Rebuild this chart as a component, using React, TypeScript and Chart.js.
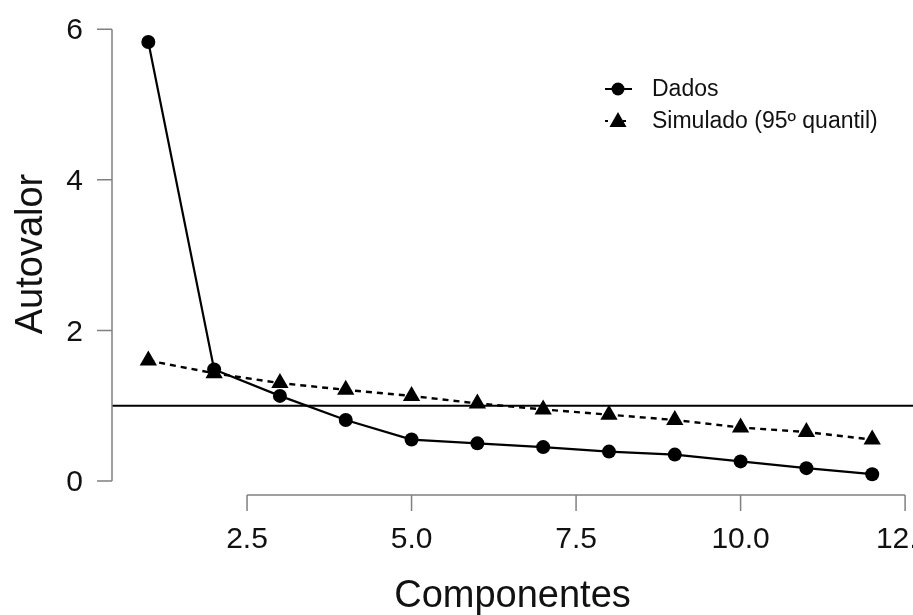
import React, { useEffect, useRef } from "react";
import { Chart, registerables } from "chart.js";

Chart.register(...registerables);

const components = [1, 2, 3, 4, 5, 6, 7, 8, 9, 10, 11, 12];
const dados = [5.83, 1.48, 1.13, 0.81, 0.55, 0.5, 0.45, 0.39, 0.35, 0.26, 0.17, 0.09];
const simulado = [1.6, 1.43, 1.3, 1.21, 1.13, 1.03, 0.95, 0.88, 0.81, 0.71, 0.65, 0.55];
const xTicks = [2.5, 5.0, 7.5, 10.0, 12.5];
const xTickLabels = ["2.5", "5.0", "7.5", "10.0", "12.5"];
const yTicks = [0, 2, 4, 6];
const yTickLabels = ["0", "2", "4", "6"];
const refLine = 1;
const legendLabels = ["Dados", "Simulado (95º quantil)"];
const xTitle = "Componentes";
const yTitle = "Autovalor";

const FONT = '"Liberation Sans", Arial, sans-serif';

export default function App() {
  const ref = useRef<HTMLCanvasElement | null>(null);

  useEffect(() => {
    const canvas = ref.current;
    if (!canvas) return;

    const axesPlugin = {
      id: "rAxes",
      beforeDatasetsDraw(chart: any) {
        const { ctx, chartArea, scales } = chart;
        const y = scales.y.getPixelForValue(refLine);
        ctx.save();
        ctx.strokeStyle = "#000";
        ctx.lineWidth = 2;
        ctx.beginPath();
        ctx.moveTo(chartArea.left, y);
        ctx.lineTo(chartArea.right, y);
        ctx.stroke();
        ctx.restore();
      },
      afterDraw(chart: any) {
        const { ctx, chartArea, scales } = chart;
        const xs = scales.x;
        const ys = scales.y;
        ctx.save();
        ctx.strokeStyle = "#808080";
        ctx.lineWidth = 1.5;
        ctx.fillStyle = "#111";
        // Y axis
        const ax = chartArea.left;
        ctx.beginPath();
        ctx.moveTo(ax, ys.getPixelForValue(yTicks[0]));
        ctx.lineTo(ax, ys.getPixelForValue(yTicks[yTicks.length - 1]));
        yTicks.forEach((t) => {
          const py = ys.getPixelForValue(t);
          ctx.moveTo(ax - 15, py);
          ctx.lineTo(ax, py);
        });
        ctx.stroke();
        ctx.font = `30px ${FONT}`;
        ctx.textAlign = "right";
        ctx.textBaseline = "middle";
        yTicks.forEach((t, i) => {
          ctx.fillText(yTickLabels[i], ax - 29, ys.getPixelForValue(t) + 2);
        });
        // X axis
        const ay = chartArea.bottom + 1;
        ctx.beginPath();
        ctx.moveTo(xs.getPixelForValue(xTicks[0]), ay);
        ctx.lineTo(xs.getPixelForValue(xTicks[xTicks.length - 1]), ay);
        xTicks.forEach((t) => {
          const px = xs.getPixelForValue(t);
          ctx.moveTo(px, ay);
          ctx.lineTo(px, ay + 16);
        });
        ctx.stroke();
        ctx.textAlign = "center";
        ctx.textBaseline = "alphabetic";
        xTicks.forEach((t, i) => {
          ctx.fillText(xTickLabels[i], xs.getPixelForValue(t), ay + 53);
        });
        // Titles
        ctx.font = `38px ${FONT}`;
        ctx.fillText(xTitle, (chartArea.left + chartArea.right) / 2, 607);
        ctx.save();
        ctx.translate(42, 254);
        ctx.rotate(-Math.PI / 2);
        ctx.fillText(yTitle, 0, 0);
        ctx.restore();
        // Legend
        const lx = 618;
        const ly = [89, 121];
        ctx.strokeStyle = "#000";
        ctx.fillStyle = "#000";
        ctx.lineWidth = 2;
        ctx.beginPath();
        ctx.moveTo(lx - 13, ly[0]);
        ctx.lineTo(lx + 14, ly[0]);
        ctx.stroke();
        ctx.beginPath();
        ctx.arc(lx, ly[0], 6.5, 0, Math.PI * 2);
        ctx.fill();
        ctx.setLineDash([3, 6]);
        ctx.beginPath();
        ctx.moveTo(lx - 13, ly[1]);
        ctx.lineTo(lx + 14, ly[1]);
        ctx.stroke();
        ctx.setLineDash([]);
        ctx.beginPath();
        ctx.moveTo(lx, ly[1] - 9);
        ctx.lineTo(lx + 8.5, ly[1] + 6);
        ctx.lineTo(lx - 8.5, ly[1] + 6);
        ctx.closePath();
        ctx.fill();
        ctx.fillStyle = "#111";
        ctx.font = `23px ${FONT}`;
        ctx.textAlign = "left";
        ctx.textBaseline = "middle";
        ctx.fillText(legendLabels[0], 652, ly[0] + 1);
        ctx.fillText(legendLabels[1], 652, ly[1] + 1);
        ctx.restore();
      },
    };

    const chart = new Chart(canvas, {
      type: "line",
      data: {
        datasets: [
          {
            label: legendLabels[1],
            data: components.map((c, i) => ({ x: c, y: simulado[i] })),
            borderColor: "#000",
            backgroundColor: "#000",
            borderWidth: 2.4,
            borderDash: [6, 5],
            pointStyle: "triangle",
            pointRadius: 10,
            pointBorderWidth: 0,
            pointBackgroundColor: "#000",
            tension: 0,
          },
          {
            label: legendLabels[0],
            data: components.map((c, i) => ({ x: c, y: dados[i] })),
            borderColor: "#000",
            backgroundColor: "#000",
            borderWidth: 2.2,
            pointStyle: "circle",
            pointRadius: 7,
            pointBorderWidth: 0,
            pointBackgroundColor: "#000",
            tension: 0,
          },
        ],
      },
      options: {
        responsive: false,
        animation: false,
        devicePixelRatio: 1,
        layout: { autoPadding: false, padding: { left: 112, top: 0, right: 0, bottom: 121 } },
        plugins: { legend: { display: false }, tooltip: { enabled: false } },
        scales: {
          x: { type: "linear", display: false, min: 0.448, max: 12.62 },
          y: { type: "linear", display: false, min: -0.173, max: 6.388 },
        },
      },
      plugins: [axesPlugin],
    });
    return () => chart.destroy();
  }, []);

  return (
    <div style={{ position: "fixed", left: 0, top: 0, width: 913, height: 615, background: "#fff" }}>
      <canvas ref={ref} width={913} height={615} style={{ width: 913, height: 615, display: "block" }} />
    </div>
  );
}
